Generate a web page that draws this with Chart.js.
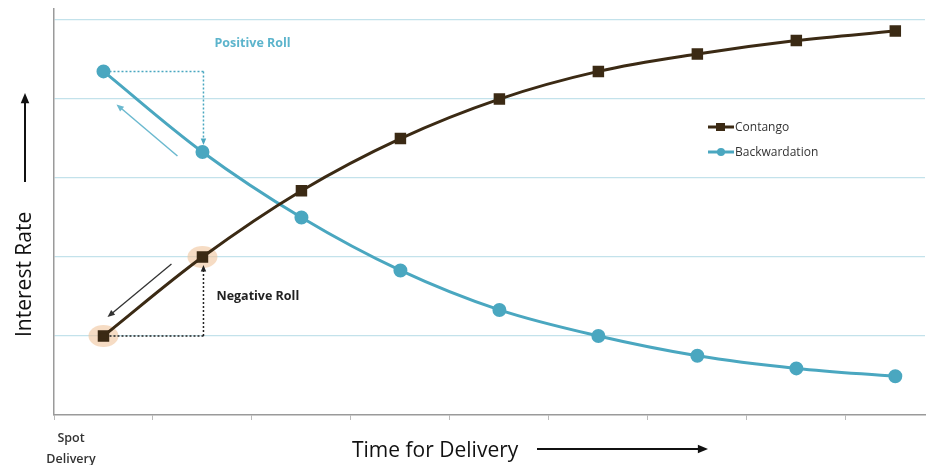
<!DOCTYPE html>
<html>
<head>
<meta charset="utf-8">
<script src="https://cdn.jsdelivr.net/npm/chart.js@4/dist/chart.umd.min.js"></script>
<style>
  html, body { margin: 0; padding: 0; background: #fff; overflow: hidden; width: 926px; height: 465px; }
  canvas { display: block; }
</style>
</head>
<body>
<canvas id="myChart" width="934" height="465"></canvas>
<script>
// delivery periods (spot first)
const categories = ['Spot', 'T1', 'T2', 'T3', 'T4', 'T5', 'T6', 'T7', 'T8'];
const contango = [1.0, 2.0, 2.84, 3.5, 4.0, 4.35, 4.57, 4.74, 4.86];
const backwardation = [4.35, 3.33, 2.5, 1.83, 1.33, 1.0, 0.75, 0.59, 0.49];
const yTicks = [0, 1, 2, 3, 4, 5];
const xTickLabels = { 0: ['Spot', 'Delivery'] };
const highlighted = [0, 1]; // contango points circled in the picture

const brown = '#3b2a14';
const teal = '#4aa7c0';
const FONT = "'Open Sans', sans-serif";

const toPoints = (arr) => arr.map((v, i) => ({ x: i + 0.5, y: v }));

function arrow(ctx, x1, y1, x2, y2, color, width, head) {
  const a = Math.atan2(y2 - y1, x2 - x1);
  ctx.save();
  ctx.strokeStyle = color;
  ctx.fillStyle = color;
  ctx.lineWidth = width;
  ctx.beginPath();
  ctx.moveTo(x1, y1);
  ctx.lineTo(x2 - Math.cos(a) * head * 0.8, y2 - Math.sin(a) * head * 0.8);
  ctx.stroke();
  ctx.setLineDash([]);
  ctx.beginPath();
  ctx.moveTo(x2, y2);
  ctx.lineTo(x2 - head * Math.cos(a - 0.4), y2 - head * Math.sin(a - 0.4));
  ctx.lineTo(x2 - head * Math.cos(a + 0.4), y2 - head * Math.sin(a + 0.4));
  ctx.closePath();
  ctx.fill();
  ctx.restore();
}

const highlightPlugin = {
  id: 'highlight',
  beforeDatasetsDraw(chart) {
    const ctx = chart.ctx;
    const meta = chart.getDatasetMeta(0);
    ctx.save();
    ctx.fillStyle = 'rgba(240, 196, 156, 0.6)';
    highlighted.forEach(i => {
      const p = meta.data[i];
      ctx.beginPath();
      ctx.ellipse(p.x, p.y, 15, 11, 0, 0, Math.PI * 2);
      ctx.fill();
    });
    ctx.restore();
  }
};

const annotationPlugin = {
  id: 'annotations',
  afterDatasetsDraw(chart) {
    const ctx = chart.ctx;
    const c0 = chart.getDatasetMeta(0).data[0];
    const c1 = chart.getDatasetMeta(0).data[1];
    const b0 = chart.getDatasetMeta(1).data[0];
    const b1 = chart.getDatasetMeta(1).data[1];

    // Positive roll: dotted elbow + arrow back up the curve
    ctx.save();
    ctx.setLineDash([2, 2]);
    ctx.strokeStyle = teal;
    ctx.lineWidth = 1.5;
    ctx.beginPath();
    ctx.moveTo(b0.x + 6, b0.y);
    ctx.lineTo(b1.x + 1, b0.y);
    ctx.stroke();
    arrow(ctx, b1.x + 1, b0.y, b1.x + 1, b1.y - 7, teal, 1.5, 7);
    ctx.restore();
    arrow(ctx, b1.x - 25, b1.y + 4, b0.x + 13, b0.y + 33, '#6bb9cf', 1.5, 8);

    // Negative roll
    ctx.save();
    ctx.setLineDash([2, 2]);
    ctx.strokeStyle = '#222';
    ctx.lineWidth = 1.5;
    ctx.beginPath();
    ctx.moveTo(c0.x + 6, c0.y);
    ctx.lineTo(c1.x + 1, c0.y);
    ctx.stroke();
    arrow(ctx, c1.x + 1, c0.y, c1.x + 1, c1.y + 8, '#222', 1.5, 7);
    ctx.restore();
    arrow(ctx, c1.x - 31, c1.y + 7, c0.x + 4, c0.y - 19, '#333', 1.3, 8);

    ctx.save();
    ctx.textBaseline = 'middle';
    ctx.textAlign = 'left';
    ctx.font = "bold 12.5px " + FONT;
    ctx.fillStyle = '#5cb4cc';
    ctx.fillText('Positive Roll', b1.x + 12, 43);
    ctx.fillStyle = '#222';
    ctx.fillText('Negative Roll', c1.x + 14, 296);

    // legend
    const items = [
      { label: 'Contango', color: brown, style: 'rect' },
      { label: 'Backwardation', color: teal, style: 'circle' }
    ];
    ctx.font = "12px " + FONT;
    items.forEach((it, i) => {
      const y = 127 + i * 25;
      ctx.strokeStyle = it.color;
      ctx.fillStyle = it.color;
      ctx.lineWidth = 3;
      ctx.beginPath();
      ctx.moveTo(708, y);
      ctx.lineTo(734, y);
      ctx.stroke();
      ctx.beginPath();
      if (it.style === 'rect') ctx.rect(716, y - 4, 9, 8);
      else ctx.arc(721, y, 4, 0, Math.PI * 2);
      ctx.fill();
      ctx.fillStyle = '#333';
      ctx.fillText(it.label, 735, y + 1);
    });

    // axis titles with arrows
    ctx.fillStyle = '#111';
    ctx.font = "21px " + FONT;
    ctx.textAlign = 'left';
    ctx.fillText('Time for Delivery', 352, 451);
    arrow(ctx, 537, 449, 708, 449, '#111', 2, 11);

    ctx.save();
    ctx.translate(25, 337);
    ctx.rotate(-Math.PI / 2);
    ctx.fillText('Interest Rate', 0, 0);
    ctx.restore();
    arrow(ctx, 25, 182, 25, 93, '#111', 2, 11);
    ctx.restore();
  }
};

new Chart(document.getElementById('myChart'), {
  type: 'line',
  data: {
    datasets: [
      {
        label: 'Contango',
        data: toPoints(contango),
        borderColor: brown,
        backgroundColor: brown,
        borderWidth: 3,
        pointStyle: 'rect',
        pointRadius: 6,
        tension: 0.35
      },
      {
        label: 'Backwardation',
        data: toPoints(backwardation),
        borderColor: teal,
        backgroundColor: teal,
        borderWidth: 3,
        pointStyle: 'circle',
        pointRadius: 5.5,
        tension: 0.35
      }
    ]
  },
  options: {
    responsive: false,
    animation: false,
    devicePixelRatio: 1,
    layout: { padding: { top: 7, right: 0, left: 0, bottom: 0 } },
    plugins: { legend: { display: false }, tooltip: { enabled: false } },
    scales: {
      x: {
        type: 'linear',
        min: 0,
        max: 8.8,
        afterFit: s => { s.height = 50; },
        border: { color: '#9a9a9a', width: 1.5 },
        grid: { drawOnChartArea: false, drawTicks: true, tickLength: 5, color: '#bbb' },
        ticks: {
          stepSize: 1,
          includeBounds: false,
          autoSkip: false,
          maxRotation: 0,
          padding: 8,
          labelOffset: 17,
          color: '#333',
          font: { family: FONT, size: 12.5, weight: '600', lineHeight: 1.7 },
          callback: v => xTickLabels[v] || ''
        }
      },
      y: {
        min: 0,
        max: 5.14,
        afterFit: s => { s.width = 54; },
        afterBuildTicks: s => { s.ticks = yTicks.map(v => ({ value: v })); },
        border: { color: '#9a9a9a', width: 1.5 },
        grid: {
          drawTicks: false,
          lineWidth: 1.2,
          color: ctx => ctx.tick && ctx.tick.value === 0 ? 'rgba(0,0,0,0)' : '#c3e2eb'
        },
        ticks: { display: false }
      }
    }
  },
  plugins: [highlightPlugin, annotationPlugin]
});
</script>
</body>
</html>
